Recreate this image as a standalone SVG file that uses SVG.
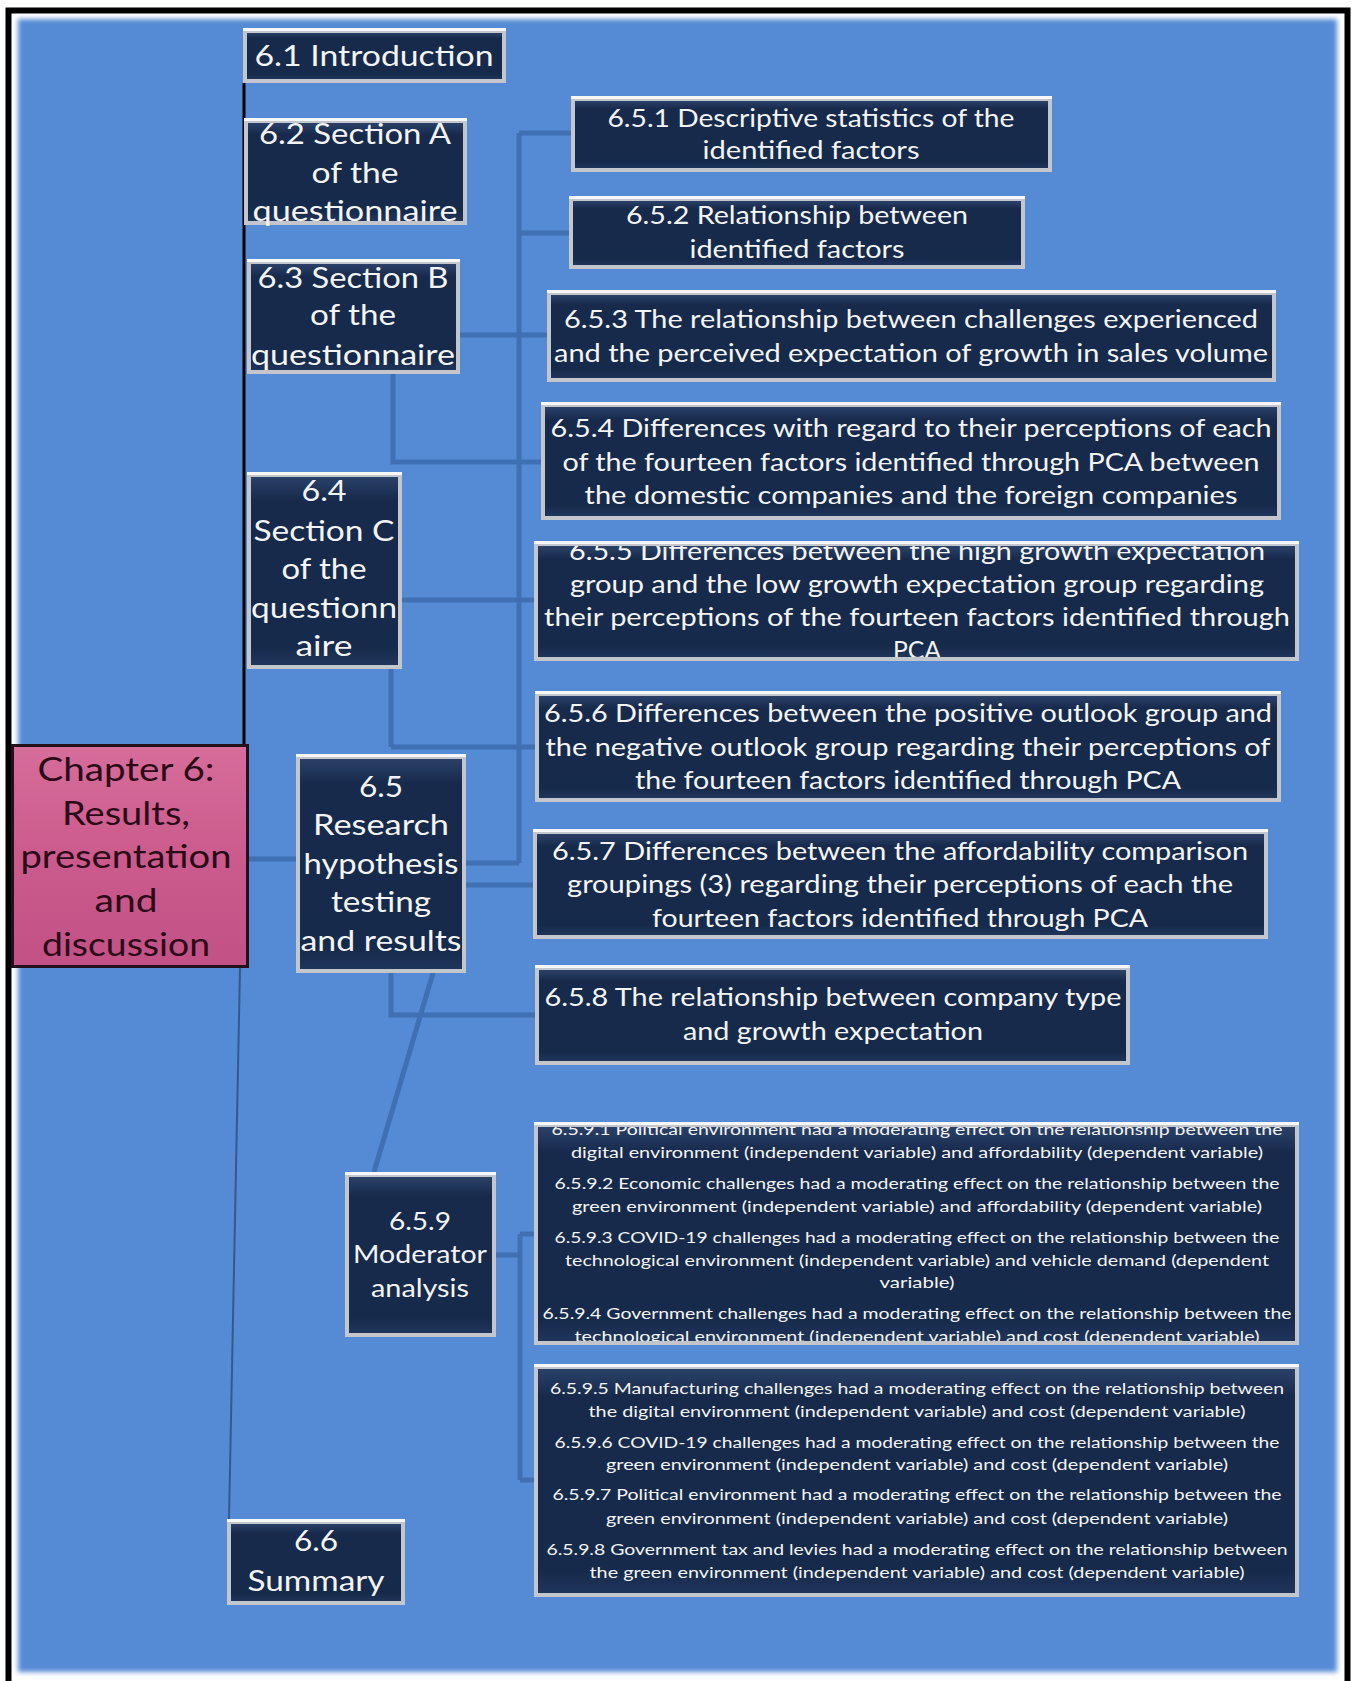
<svg xmlns="http://www.w3.org/2000/svg" width="1355" height="1681" viewBox="0 0 1355 1681">
<style>
  .rim{fill:#c3c6cc}
  .hl{stroke:#f7f7f7;stroke-width:3;fill:none}
  .face{fill:url(#navy)}
  .t{font-family:Lato,"Liberation Sans",sans-serif;fill:#f4f4f4;text-anchor:middle}
  .big{font-size:29px}
  .mod{font-size:25px}
  .mid{font-size:24.5px}
  .sm{font-size:16px}
  .chap{font-size:32px;fill:#2a0a17}
  .cn{stroke:#3f70b3;stroke-width:5;fill:none}
</style>
<defs>
  <linearGradient id="navy" x1="0" y1="0" x2="0" y2="1">
    <stop offset="0" stop-color="#2a4168"/>
    <stop offset="0.12" stop-color="#172a4c"/>
    <stop offset="0.9" stop-color="#162a4b"/>
    <stop offset="1" stop-color="#1f355a"/>
  </linearGradient>
  <linearGradient id="pink" x1="0" y1="0" x2="0" y2="1">
    <stop offset="0" stop-color="#d66d9b"/>
    <stop offset="0.5" stop-color="#cb5b8c"/>
    <stop offset="1" stop-color="#c25286"/>
  </linearGradient>
  <filter id="soft" x="-2%" y="-2%" width="104%" height="104%">
    <feGaussianBlur stdDeviation="2.5"/>
  </filter>
  <clipPath id="clip655"><rect x="538" y="546" width="757" height="111"/></clipPath>
  <clipPath id="clip659a"><rect x="538" y="1127" width="757" height="214"/></clipPath>
</defs>

<!-- page frame and blue canvas -->
<rect x="0" y="0" width="1355" height="1681" fill="#ffffff"/>
<rect x="8.5" y="10.5" width="1339" height="1690" fill="#ffffff" stroke="#000000" stroke-width="6"/>
<rect x="18" y="19" width="1319" height="1653" fill="#558ad5" filter="url(#soft)"/>

<!-- connectors -->
<g id="connectors">
  <path d="M244 83 V744" stroke="#000000" stroke-width="3" fill="none"/>
  <path d="M240 968 L229 1519" stroke="#34598a" stroke-width="2" fill="none"/>
  <path class="cn" d="M519 133 V863"/>
  <path class="cn" d="M519 133 H571"/>
  <path class="cn" d="M519 233 H569"/>
  <path class="cn" d="M460 335 H547"/>
  <path class="cn" d="M393 374 V462 H541"/>
  <path class="cn" d="M402 600 H534"/>
  <path class="cn" d="M391 669 V747" stroke-width="8"/>
  <path class="cn" d="M391 747 H535"/>
  <path class="cn" d="M466 863 H519"/>
  <path class="cn" d="M466 885 H533"/>
  <path class="cn" d="M249 859 H296"/>
  <path class="cn" d="M391 973 V1015 H535"/>
  <path class="cn" d="M433 973 L374 1172" stroke-width="3"/>
  <path class="cn" d="M496 1255 H520"/>
  <path class="cn" d="M520 1234 V1480" stroke-width="4"/>
  <path class="cn" d="M520 1234 H534" stroke-width="4"/>
  <path class="cn" d="M520 1480 H534" stroke-width="4"/>
</g>

<!-- chapter box -->
<g id="chapter6">
  <rect x="12.5" y="745.5" width="235" height="221" fill="url(#pink)" stroke="#24101a" stroke-width="3"/>
  <text class="t chap" x="126" y="781" textLength="177" lengthAdjust="spacingAndGlyphs">Chapter 6:</text>
  <text class="t chap" x="126" y="825" textLength="128" lengthAdjust="spacingAndGlyphs">Results,</text>
  <text class="t chap" x="126" y="868" textLength="211" lengthAdjust="spacingAndGlyphs">presentation</text>
  <text class="t chap" x="126" y="912" textLength="63" lengthAdjust="spacingAndGlyphs">and</text>
  <text class="t chap" x="126" y="956" textLength="168" lengthAdjust="spacingAndGlyphs">discussion</text>
</g>

<!-- first-level sections -->
<g id="n61">
  <rect class="rim" x="243" y="28" width="263" height="55"/>
  <rect class="face" x="247" y="33" width="255" height="46"/>
  <path class="hl" d="M243 29.5 H506"/>
  <text class="t big" x="374" y="66" textLength="239" lengthAdjust="spacingAndGlyphs">6.1 Introduction</text>
</g>
<g id="n62">
  <rect class="rim" x="244" y="118" width="223" height="107"/>
  <rect class="face" x="248" y="123" width="215" height="98"/>
  <path class="hl" d="M244 119.5 H467"/>
  <text class="t big" x="355" y="144" textLength="192" lengthAdjust="spacingAndGlyphs">6.2 Section A</text>
  <text class="t big" x="355" y="183" textLength="87" lengthAdjust="spacingAndGlyphs">of the</text>
  <text class="t big" x="355" y="221" textLength="205" lengthAdjust="spacingAndGlyphs">questionnaire</text>
</g>
<g id="n63">
  <rect class="rim" x="247" y="259" width="213" height="115"/>
  <rect class="face" x="251" y="264" width="205" height="106"/>
  <path class="hl" d="M247 260.5 H460"/>
  <text class="t big" x="353" y="288" textLength="191" lengthAdjust="spacingAndGlyphs">6.3 Section B</text>
  <text class="t big" x="353" y="325" textLength="86" lengthAdjust="spacingAndGlyphs">of the</text>
  <text class="t big" x="353" y="365" textLength="204" lengthAdjust="spacingAndGlyphs">questionnaire</text>
</g>
<g id="n64">
  <rect class="rim" x="247" y="472" width="155" height="197"/>
  <rect class="face" x="251" y="477" width="147" height="188"/>
  <path class="hl" d="M247 473.5 H402"/>
  <text class="t big" x="324" y="501" textLength="45" lengthAdjust="spacingAndGlyphs">6.4</text>
  <text class="t big" x="324" y="541" textLength="141" lengthAdjust="spacingAndGlyphs">Section C</text>
  <text class="t big" x="324" y="579" textLength="85" lengthAdjust="spacingAndGlyphs">of the</text>
  <text class="t big" x="324" y="618" textLength="146" lengthAdjust="spacingAndGlyphs">questionn</text>
  <text class="t big" x="324" y="656" textLength="57" lengthAdjust="spacingAndGlyphs">aire</text>
</g>
<g id="n65">
  <rect class="rim" x="296" y="754" width="170" height="219"/>
  <rect class="face" x="300" y="759" width="162" height="210"/>
  <path class="hl" d="M296 755.5 H466"/>
  <text class="t big" x="381" y="797" textLength="44" lengthAdjust="spacingAndGlyphs">6.5</text>
  <text class="t big" x="381" y="835" textLength="136" lengthAdjust="spacingAndGlyphs">Research</text>
  <text class="t big" x="381" y="874" textLength="155" lengthAdjust="spacingAndGlyphs">hypothesis</text>
  <text class="t big" x="381" y="912" textLength="100" lengthAdjust="spacingAndGlyphs">testing</text>
  <text class="t big" x="381" y="951" textLength="161" lengthAdjust="spacingAndGlyphs">and results</text>
</g>
<g id="n659">
  <rect class="rim" x="345" y="1172" width="151" height="165"/>
  <rect class="face" x="349" y="1177" width="143" height="156"/>
  <path class="hl" d="M345 1173.5 H496"/>
  <text class="t mod" x="420" y="1230" textLength="62" lengthAdjust="spacingAndGlyphs">6.5.9</text>
  <text class="t mod" x="420" y="1263" textLength="134" lengthAdjust="spacingAndGlyphs">Moderator</text>
  <text class="t mod" x="420" y="1297" textLength="98" lengthAdjust="spacingAndGlyphs">analysis</text>
</g>
<g id="n66">
  <rect class="rim" x="227" y="1519" width="178" height="86"/>
  <rect class="face" x="231" y="1524" width="170" height="77"/>
  <path class="hl" d="M227 1520.5 H405"/>
  <text class="t big" x="316" y="1551" textLength="44" lengthAdjust="spacingAndGlyphs">6.6</text>
  <text class="t big" x="316" y="1591" textLength="137" lengthAdjust="spacingAndGlyphs">Summary</text>
</g>

<!-- sub-sections of 6.5 -->
<g id="n651">
  <rect class="rim" x="571" y="96" width="481" height="76"/>
  <rect class="face" x="575" y="101" width="473" height="67"/>
  <path class="hl" d="M571 97.5 H1052"/>
  <text class="t mid" x="811" y="127" textLength="407" lengthAdjust="spacingAndGlyphs">6.5.1 Descriptive statistics of the</text>
  <text class="t mid" x="811" y="159" textLength="217" lengthAdjust="spacingAndGlyphs">identified factors</text>
</g>
<g id="n652">
  <rect class="rim" x="569" y="196" width="456" height="73"/>
  <rect class="face" x="573" y="201" width="448" height="64"/>
  <path class="hl" d="M569 197.5 H1025"/>
  <text class="t mid" x="797" y="224" textLength="342" lengthAdjust="spacingAndGlyphs">6.5.2 Relationship between</text>
  <text class="t mid" x="797" y="258" textLength="215" lengthAdjust="spacingAndGlyphs">identified factors</text>
</g>
<g id="n653">
  <rect class="rim" x="547" y="290" width="729" height="92"/>
  <rect class="face" x="551" y="295" width="721" height="83"/>
  <path class="hl" d="M547 291.5 H1276"/>
  <text class="t mid" x="911" y="328" textLength="694" lengthAdjust="spacingAndGlyphs">6.5.3 The relationship between challenges experienced</text>
  <text class="t mid" x="911" y="362" textLength="714" lengthAdjust="spacingAndGlyphs">and the perceived expectation of growth in sales volume</text>
</g>
<g id="n654">
  <rect class="rim" x="541" y="402" width="740" height="118"/>
  <rect class="face" x="545" y="407" width="732" height="109"/>
  <path class="hl" d="M541 403.5 H1281"/>
  <text class="t mid" x="911" y="437" textLength="721" lengthAdjust="spacingAndGlyphs">6.5.4 Differences with regard to their perceptions of each</text>
  <text class="t mid" x="911" y="471" textLength="697" lengthAdjust="spacingAndGlyphs">of the fourteen factors identified through PCA between</text>
  <text class="t mid" x="911" y="504" textLength="653" lengthAdjust="spacingAndGlyphs">the domestic companies and the foreign companies</text>
</g>
<g id="n655">
  <rect class="rim" x="534" y="541" width="765" height="120"/>
  <rect class="face" x="538" y="546" width="757" height="111"/>
  <g clip-path="url(#clip655)">
    <text class="t mid" x="917" y="560" textLength="696" lengthAdjust="spacingAndGlyphs">6.5.5 Differences between the high growth expectation</text>
    <text class="t mid" x="917" y="593" textLength="694" lengthAdjust="spacingAndGlyphs">group and the low growth expectation group regarding</text>
    <text class="t mid" x="917" y="626" textLength="746" lengthAdjust="spacingAndGlyphs">their perceptions of the fourteen factors identified through</text>
    <text class="t mid" x="917" y="659" textLength="48" lengthAdjust="spacingAndGlyphs">PCA</text>
  </g>
  <path class="hl" d="M534 542.5 H1299"/>
</g>
<g id="n656">
  <rect class="rim" x="535" y="691" width="746" height="111"/>
  <rect class="face" x="539" y="696" width="738" height="102"/>
  <path class="hl" d="M535 692.5 H1281"/>
  <text class="t mid" x="908" y="722" textLength="728" lengthAdjust="spacingAndGlyphs">6.5.6 Differences between the positive outlook group and</text>
  <text class="t mid" x="908" y="756" textLength="725" lengthAdjust="spacingAndGlyphs">the negative outlook group regarding their perceptions of</text>
  <text class="t mid" x="908" y="789" textLength="546" lengthAdjust="spacingAndGlyphs">the fourteen factors identified through PCA</text>
</g>
<g id="n657">
  <rect class="rim" x="533" y="829" width="735" height="110"/>
  <rect class="face" x="537" y="834" width="727" height="101"/>
  <path class="hl" d="M533 830.5 H1268"/>
  <text class="t mid" x="900" y="860" textLength="696" lengthAdjust="spacingAndGlyphs">6.5.7 Differences between the affordability comparison</text>
  <text class="t mid" x="900" y="893" textLength="666" lengthAdjust="spacingAndGlyphs">groupings (3) regarding their perceptions of each the</text>
  <text class="t mid" x="900" y="927" textLength="496" lengthAdjust="spacingAndGlyphs">fourteen factors identified through PCA</text>
</g>
<g id="n658">
  <rect class="rim" x="535" y="965" width="595" height="100"/>
  <rect class="face" x="539" y="970" width="587" height="91"/>
  <path class="hl" d="M535 966.5 H1130"/>
  <text class="t mid" x="833" y="1006" textLength="577" lengthAdjust="spacingAndGlyphs">6.5.8 The relationship between company type</text>
  <text class="t mid" x="833" y="1040" textLength="300" lengthAdjust="spacingAndGlyphs">and growth expectation</text>
</g>

<!-- moderator results -->
<g id="n659a">
  <rect class="rim" x="534" y="1122" width="765" height="223"/>
  <rect class="face" x="538" y="1127" width="757" height="214"/>
  <g clip-path="url(#clip659a)">
    <text class="t sm" x="917" y="1135" textLength="731" lengthAdjust="spacingAndGlyphs">6.5.9.1 Political environment had a moderating effect on the relationship between the</text>
    <text class="t sm" x="917" y="1158" textLength="692" lengthAdjust="spacingAndGlyphs">digital environment (independent variable) and affordability (dependent variable)</text>
    <text class="t sm" x="917" y="1189" textLength="725" lengthAdjust="spacingAndGlyphs">6.5.9.2 Economic challenges had a moderating effect on the relationship between the</text>
    <text class="t sm" x="917" y="1212" textLength="690" lengthAdjust="spacingAndGlyphs">green environment (independent variable) and affordability (dependent variable)</text>
    <text class="t sm" x="917" y="1243" textLength="725" lengthAdjust="spacingAndGlyphs">6.5.9.3 COVID-19 challenges had a moderating effect on the relationship between the</text>
    <text class="t sm" x="917" y="1266" textLength="704" lengthAdjust="spacingAndGlyphs">technological environment (independent variable) and vehicle demand (dependent</text>
    <text class="t sm" x="917" y="1288" textLength="75" lengthAdjust="spacingAndGlyphs">variable)</text>
    <text class="t sm" x="917" y="1319" textLength="749" lengthAdjust="spacingAndGlyphs">6.5.9.4 Government challenges had a moderating effect on the relationship between the</text>
    <text class="t sm" x="917" y="1342" textLength="685" lengthAdjust="spacingAndGlyphs">technological environment (independent variable) and cost (dependent variable)</text>
  </g>
  <path class="hl" d="M534 1123.5 H1299"/>
</g>
<g id="n659b">
  <rect class="rim" x="534" y="1364" width="765" height="233"/>
  <rect class="face" x="538" y="1369" width="757" height="224"/>
  <path class="hl" d="M534 1365.5 H1299"/>
  <text class="t sm" x="917" y="1394" textLength="734" lengthAdjust="spacingAndGlyphs">6.5.9.5 Manufacturing challenges had a moderating effect on the relationship between</text>
  <text class="t sm" x="917" y="1417" textLength="657" lengthAdjust="spacingAndGlyphs">the digital environment (independent variable) and cost (dependent variable)</text>
  <text class="t sm" x="917" y="1448" textLength="725" lengthAdjust="spacingAndGlyphs">6.5.9.6 COVID-19 challenges had a moderating effect on the relationship between the</text>
  <text class="t sm" x="917" y="1470" textLength="622" lengthAdjust="spacingAndGlyphs">green environment (independent variable) and cost (dependent variable)</text>
  <text class="t sm" x="917" y="1500" textLength="729" lengthAdjust="spacingAndGlyphs">6.5.9.7 Political environment had a moderating effect on the relationship between the</text>
  <text class="t sm" x="917" y="1524" textLength="622" lengthAdjust="spacingAndGlyphs">green environment (independent variable) and cost (dependent variable)</text>
  <text class="t sm" x="917" y="1555" textLength="741" lengthAdjust="spacingAndGlyphs">6.5.9.8 Government tax and levies had a moderating effect on the relationship between</text>
  <text class="t sm" x="917" y="1578" textLength="655" lengthAdjust="spacingAndGlyphs">the green environment (independent variable) and cost (dependent variable)</text>
</g>
</svg>
